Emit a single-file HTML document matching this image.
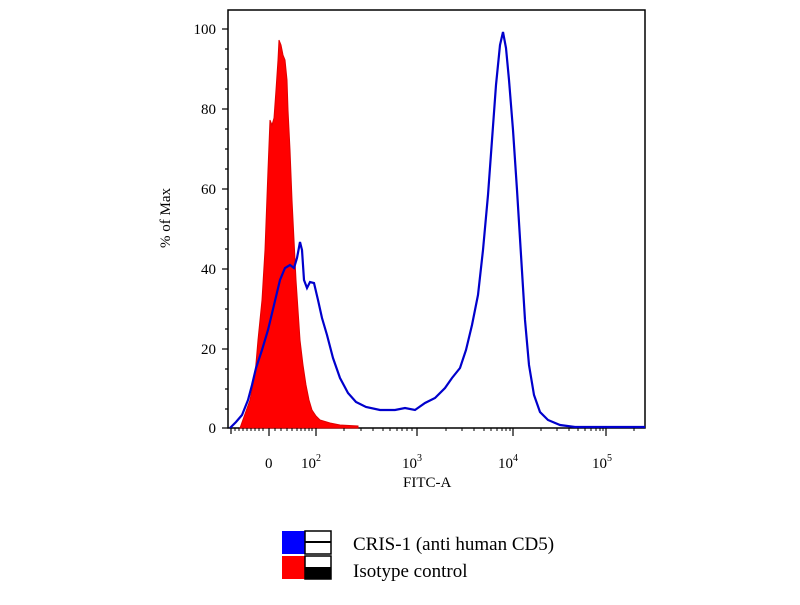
<!DOCTYPE html>
<html><head><style>body{margin:0;background:#fff;width:800px;height:600px;overflow:hidden}</style></head><body>
<svg width="800" height="600" xmlns="http://www.w3.org/2000/svg" font-family="Liberation Serif, serif">
<rect x="228" y="10" width="417" height="418" fill="#fff" stroke="#000" stroke-width="1.5"/>
<polygon fill="#ff0000" stroke="#e00000" stroke-width="1" points="240,428 250,400 255,375 258,340 262,300 265,250 268,170 270,120 272,125 274,118 276,90 278,60 279,40 281,45 283,55 285,60 287,80 288,110 290,150 292,200 294,240 296,280 298,310 300,340 303,365 306,385 309,400 312,410 316,416 320,420 330,423 340,425 358,426 358,428"/>
<polyline fill="none" stroke="#0000cc" stroke-width="2.2" points="230,428 236,422 242,415 248,400 252,385 256,368 262,350 268,330 274,305 280,280 285,268 290,265 294,268 297,258 300,242 302,250 304,280 307,288 310,282 314,283 318,300 322,318 327,335 333,358 340,378 348,393 356,402 366,407 380,410 395,410 405,408 415,410 425,403 435,398 445,388 452,378 460,368 466,350 472,325 478,295 483,250 488,195 492,140 496,85 500,45 503,32 506,48 509,80 513,130 517,190 521,255 525,320 529,365 534,395 540,412 548,420 560,425 575,427 645,427"/>
<g stroke="#000" stroke-width="1.2">
<line x1="222" y1="29" x2="228" y2="29"/><line x1="222" y1="109" x2="228" y2="109"/><line x1="222" y1="189" x2="228" y2="189"/><line x1="222" y1="269" x2="228" y2="269"/><line x1="222" y1="349" x2="228" y2="349"/><line x1="222" y1="428" x2="228" y2="428"/>
<line x1="225" y1="49" x2="228" y2="49"/><line x1="225" y1="69" x2="228" y2="69"/><line x1="225" y1="89" x2="228" y2="89"/><line x1="225" y1="129" x2="228" y2="129"/><line x1="225" y1="149" x2="228" y2="149"/><line x1="225" y1="169" x2="228" y2="169"/><line x1="225" y1="209" x2="228" y2="209"/><line x1="225" y1="229" x2="228" y2="229"/><line x1="225" y1="249" x2="228" y2="249"/><line x1="225" y1="289" x2="228" y2="289"/><line x1="225" y1="309" x2="228" y2="309"/><line x1="225" y1="329" x2="228" y2="329"/><line x1="225" y1="369" x2="228" y2="369"/><line x1="225" y1="389" x2="228" y2="389"/><line x1="225" y1="409" x2="228" y2="409"/>
<line x1="269" y1="428" x2="269" y2="436"/><line x1="316" y1="428" x2="316" y2="436"/><line x1="417" y1="428" x2="417" y2="436"/><line x1="513" y1="428" x2="513" y2="436"/><line x1="606" y1="428" x2="606" y2="436"/>
<line x1="231" y1="428" x2="231" y2="434"/>
</g>
<g stroke="#000" stroke-width="1">
<path d="M235 428v3M239 428v3M243 428v3M247 428v3M251 428v3M255 428v3M259 428v3M263 428v3M275 428v3M281 428v3M287 428v3M292 428v3M297 428v3M301 428v3M305 428v3M309 428v3M312 428v3M344 428v3M361 428v3M373 428v3M383 428v3M390 428v3M397 428v3M402 428v3M407 428v3M412 428v3M446 428v3M462 428v3M474 428v3M484 428v3M491 428v3M497 428v3M502 428v3M506 428v3M510 428v3M541 428v3M557 428v3M569 428v3M578 428v3M585 428v3M591 428v3M596 428v3M600 428v3M603 428v3M634 428v3"/>
</g>
<g font-size="15" text-anchor="end" fill="#000">
<text x="216" y="34">100</text><text x="216" y="114">80</text><text x="216" y="194">60</text><text x="216" y="274">40</text><text x="216" y="354">20</text><text x="216" y="433">0</text>
</g>
<text transform="translate(170,218) rotate(-90)" font-size="15" text-anchor="middle">% of Max</text>
<g font-size="15" fill="#000">
<text x="265" y="468">0</text>
<text x="301" y="468">10<tspan font-size="10" dy="-7">2</tspan></text>
<text x="402" y="468">10<tspan font-size="10" dy="-7">3</tspan></text>
<text x="498" y="468">10<tspan font-size="10" dy="-7">4</tspan></text>
<text x="592" y="468">10<tspan font-size="10" dy="-7">5</tspan></text>
<text x="403" y="487">FITC-A</text>
</g>
<rect x="282" y="531" width="23" height="23" fill="#0000ff"/>
<rect x="305" y="531" width="26" height="23" fill="#fff" stroke="#000" stroke-width="1.5"/>
<line x1="305" y1="542" x2="331" y2="542" stroke="#000" stroke-width="2"/>
<rect x="282" y="556" width="23" height="23" fill="#ff0000"/>
<rect x="305" y="556" width="26" height="23" fill="#fff" stroke="#000" stroke-width="1.5"/>
<rect x="305" y="567" width="26" height="12" fill="#000"/>
<text x="353" y="550" font-size="19">CRIS-1 (anti human CD5)</text>
<text x="353" y="577" font-size="19">Isotype control</text>
</svg>
</body></html>
